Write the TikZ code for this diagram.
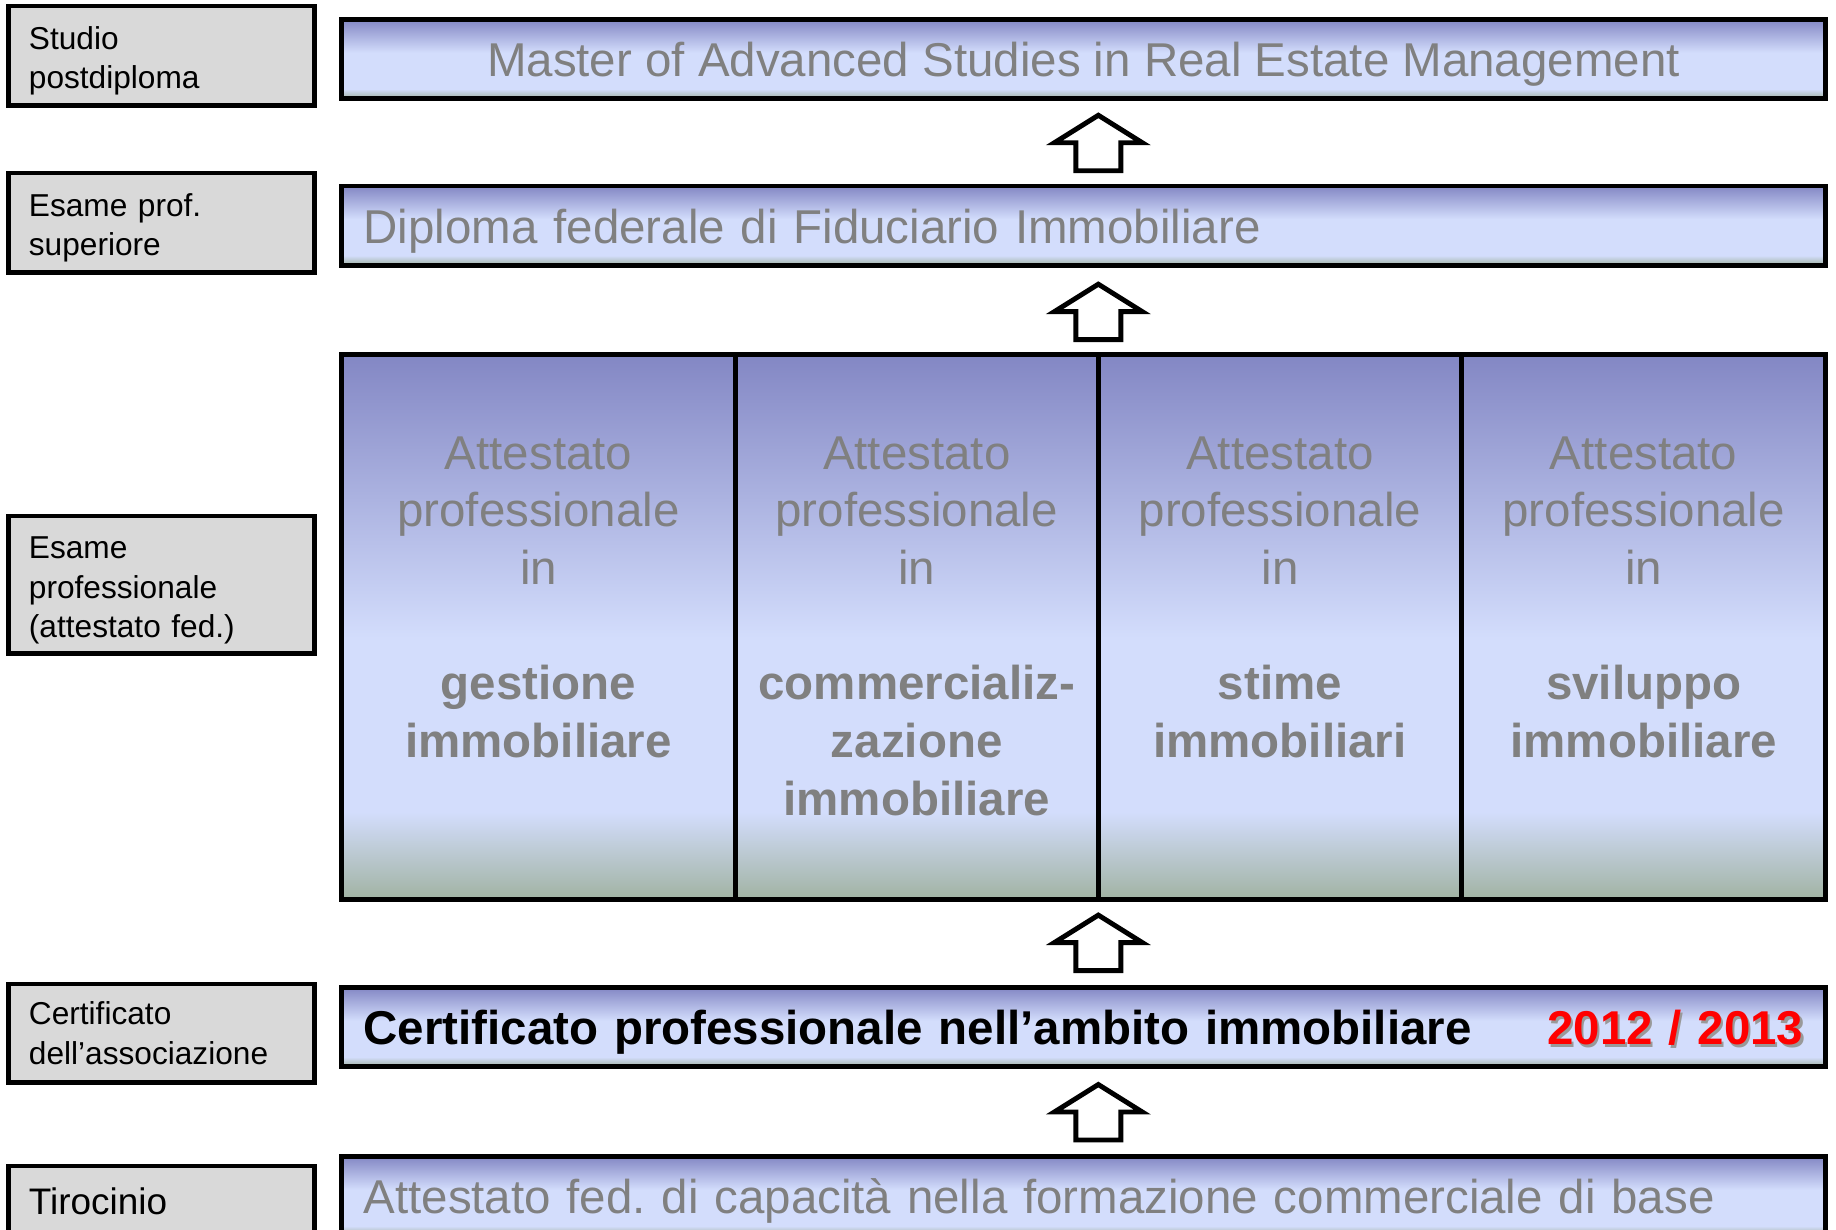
\documentclass[tikz,border=0pt]{standalone}
\usepackage{fontspec}
\setmainfont{Liberation Sans}
\usetikzlibrary{calc,positioning}
\definecolor{boxgray}{HTML}{D9D9D9}
\definecolor{txtgray}{HTML}{808080}
\definecolor{shtop}{HTML}{8387C4}
\definecolor{shlight}{HTML}{D3DDFC}
\definecolor{shbot}{HTML}{A1B3A3}
\definecolor{yearred}{HTML}{FF0000}
\pgfdeclareverticalshading{barfill}{100bp}{color(0bp)=(shbot); color(25bp)=(shbot);
  color(31bp)=(shlight); color(54bp)=(shlight); color(75bp)=(shtop); color(100bp)=(shtop)}
\pgfdeclareverticalshading{colfill}{100bp}{color(0bp)=(shbot); color(25bp)=(shbot);
  color(33bp)=(shlight); color(49bp)=(shlight); color(75bp)=(shtop); color(100bp)=(shtop)}
\newcommand{\shadowed}[1]{\makebox[0pt][l]{\hspace{0.6pt}\raisebox{-0.6pt}{\textcolor{black!40}{#1}}}#1}
\frenchspacing
\begin{document}
\begin{tikzpicture}[x=0.01cm,y=-0.01cm,
  lbl/.style={draw,line width=1.4pt,fill=boxgray,minimum width=3.05cm,text width=2.65cm,
    inner xsep=0.2cm,inner ysep=0pt,align=left,font=\fontsize{9}{11.3}\selectfont},
  lowtext/.style={execute at begin node={\rule{0pt}{9.6pt}}},
  bar/.style={draw,line width=1.4pt,shade,shading=barfill,minimum width=14.83cm,minimum height=0.79cm,
    inner xsep=0.22cm,inner ysep=0pt,text height=13.4pt,text depth=3.2pt,
    font=\fontsize{13.5}{16.4}\selectfont,text=txtgray},
  leftbar/.style={bar,text width=14.39cm,align=left},
  col/.style={draw,line width=1.4pt,shade,shading=colfill,minimum height=5.44cm,outer sep=0pt,inner sep=0pt},
  coltxt/.style={align=center,text=txtgray,font=\fontsize{13.5}{16.4}\selectfont,inner sep=0pt},
  uparrow/.style={draw,line width=1.4pt,fill=white}]
 \useasboundingbox (0,0) rectangle (1836,1229);
 \clip (0,0) rectangle (1836,1229);
 % left column
 \node[lbl,lowtext,minimum height=0.99cm] (studio) at (161.5,55.5) {Studio\\postdiploma};
 \node[lbl,lowtext,minimum height=0.99cm] (esprof) at (161.5,222.5) {Esame prof.\\superiore};
 \node[lbl,lowtext,minimum height=1.37cm] (esame) at (161.5,584.5) {Esame\\professionale\\(attestato fed.)};
 \node[lbl,minimum height=0.98cm] (certas) at (161.5,1033) {Certificato\\dell'associazione};
 \node[lbl,minimum height=0.70cm,font=\fontsize{10.5}{12.6}\selectfont] (tiro) at (161.5,1201) {Tirocinio};
 % right column
 \node[bar] (mas) at (1083.5,59) {Master of Advanced Studies in Real Estate Management};
 \node[leftbar] (dip) at (1083.5,225.5) {Diploma federale di Fiduciario Immobiliare};
 \node[col,minimum width=3.93cm] (c1) at (538.5,627) {};
 \node[col,minimum width=3.63cm,right=0pt of c1] (c2) {};
 \node[col,minimum width=3.63cm,right=0pt of c2] (c3) {};
 \node[col,minimum width=3.64cm,right=0pt of c3] (c4) {};
 \node[coltxt,below=0.81cm of c1.north] (t1) {Attestato\\professionale\\in\\[16.4pt]\textbf{gestione}\\\textbf{immobiliare}};
 \node[coltxt,below=0.81cm of c2.north] (t2) {Attestato\\professionale\\in\\[16.4pt]\textbf{commercializ-}\\\textbf{zazione}\\\textbf{immobiliare}};
 \node[coltxt,below=0.81cm of c3.north] (t3) {Attestato\\professionale\\in\\[16.4pt]\textbf{stime}\\\textbf{immobiliari}};
 \node[coltxt,below=0.81cm of c4.north] (t4) {Attestato\\professionale\\in\\[16.4pt]\textbf{sviluppo}\\\textbf{immobiliare}};
 \node[leftbar,text=black,font=\fontsize{13.5}{16.4}\selectfont\bfseries] (cert) at (1083.5,1027)
  {Certificato professionale nell'ambito immobiliare\hfill\textcolor{yearred}{\shadowed{2012 / 2013}}};
 \node[leftbar] (att) at (1083.5,1196) {Attestato fed. di capacità nella formazione commerciale di base};
 % arrows
 \foreach \lo/\hi in {dip/mas,c2/dip,cert/c2,att/cert}{
  \coordinate (m) at ($(\lo.north)!.5!(\hi.south)$);
  \draw[uparrow] (m -| c2.east) ++(0,-27) -- ++(44,27.5) -- ++(-21.5,0) -- ++(0,28)
   -- ++(-45,0) -- ++(0,-28) -- ++(-21.5,0) -- cycle;
 }
\end{tikzpicture}
\end{document}
